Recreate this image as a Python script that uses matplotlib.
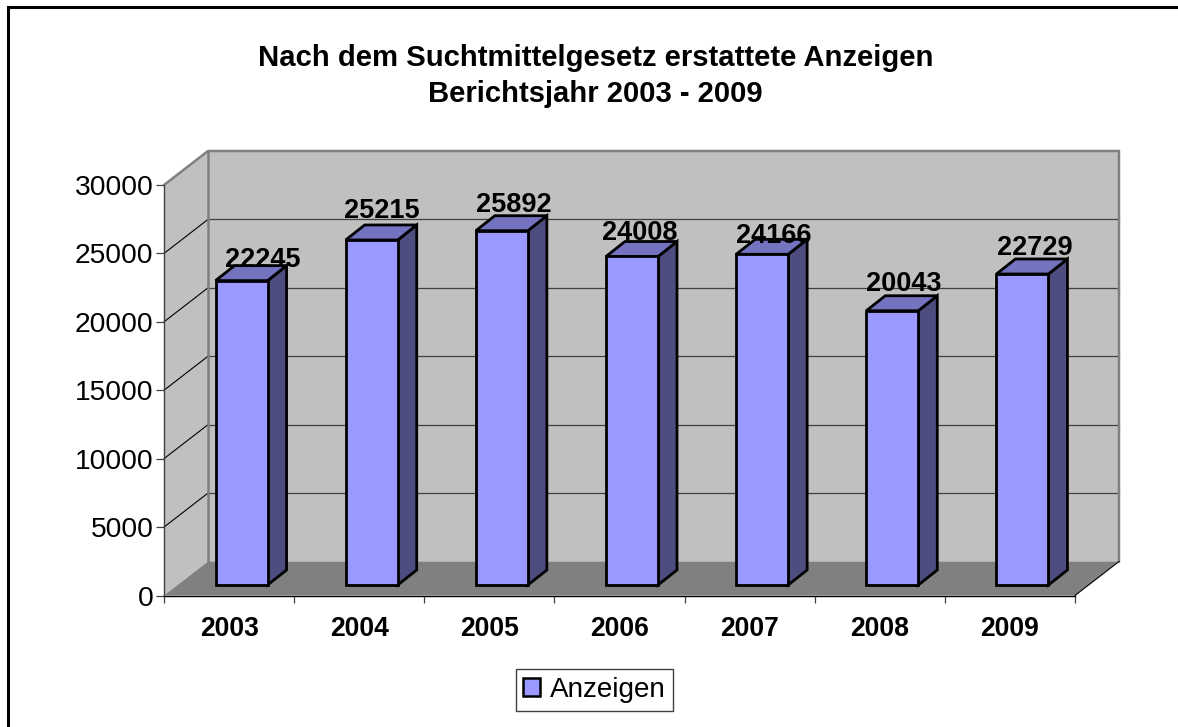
import matplotlib
matplotlib.use("Agg")
import matplotlib.pyplot as plt
from matplotlib.lines import Line2D
from matplotlib.patches import Polygon, Patch

years = ["2003", "2004", "2005", "2006", "2007", "2008", "2009"]
anzeigen = [22245, 25215, 25892, 24008, 24166, 20043, 22729]
yticks = [0, 5000, 10000, 15000, 20000, 25000, 30000]
title = "Nach dem Suchtmittelgesetz erstattete Anzeigen\nBerichtsjahr 2003 - 2009"
series_name = "Anzeigen"

# hand-placed label offsets in the original (pixels from bar top centre)
label_dx = [21, 10, 12, 8, 12, 11, 12]
label_dy = [21, 29, 26, 23, 18, 27, 26]

plt.rcParams['font.family'] = ['Liberation Sans', 'DejaVu Sans']
W, H = 1178, 727
fig = plt.figure(figsize=(W / 100, H / 100), dpi=100)
L, R, B, T = 164, 1075, 595.5, 185
ax = fig.add_axes([L / W, 1 - B / H, (R - L) / W, (B - T) / H])
ax.set_xlim(-0.5, 6.5)
ax.set_ylim(0, 30000)
ax.patch.set_visible(False)

xpx = (R - L) / 7
ypx = (B - T) / 30000
DX, DY = 44 / xpx, 34 / ypx           # wall depth
SX, SY = 12.5 / xpx, 10.5 / ypx       # bar shift into depth
BX, BY = 19 / xpx, 15 / ypx           # bar depth
BW = 52 / xpx
x0, x1 = -0.5, 6.5
ymax = 30000

def poly(pts, **kw):
    kw.setdefault('clip_on', False)
    ax.add_patch(Polygon(pts, closed=True, **kw))

def line(xs, ys, **kw):
    ax.add_line(Line2D(xs, ys, clip_on=False, **kw))

# walls and floor
poly([(x0, 0), (x0 + DX, DY), (x1 + DX, DY), (x1 + DX, ymax + DY), (x0 + DX, ymax + DY), (x0, ymax)],
     facecolor='#c0c0c0', edgecolor='none', zorder=1)
poly([(x0, 0), (x1, 0), (x1 + DX, DY), (x0 + DX, DY)], facecolor='#808080', edgecolor='none', zorder=1.2)

# gridlines
for v in yticks[1:-1]:
    line([x0 + DX, x1 + DX], [v + DY, v + DY], color='#404040', lw=0.9, zorder=1.5)
    line([x0, x0 + DX], [v, v + DY], color='black', lw=0.8, zorder=1.5)
# wall outline
line([x0, x0 + DX, x1 + DX, x1 + DX], [ymax, ymax + DY, ymax + DY, DY], color='#808080', lw=1.8, zorder=1.6)
line([x0 + DX, x0 + DX], [DY, ymax + DY], color='#808080', lw=1.8, zorder=1.6)
line([x1, x1 + DX], [0, DY], color='black', lw=0.8, zorder=1.6)

# bars
for i, v in enumerate(anzeigen):
    l = i - BW / 2 + SX
    r = i + BW / 2 + SX
    b = SY
    t = v + SY
    kw = dict(edgecolor='black', linewidth=2.0, joinstyle='miter', zorder=3)
    poly([(r, b), (r + BX, b + BY), (r + BX, t + BY), (r, t)], facecolor='#4d4d80', **kw)
    poly([(l, t), (r, t), (r + BX, t + BY), (l + BX, t + BY)], facecolor='#7373bf', **kw)
    poly([(l, b), (r, b), (r, t), (l, t)], facecolor='#9999ff', **kw)
    ax.annotate(str(v), xy=(i + SX, t), xytext=(label_dx[i] * 0.72, label_dy[i] * 0.72),
                textcoords='offset points', ha='center', va='center',
                fontsize=19.5, fontweight='bold', color='black', zorder=5, annotation_clip=False)

# axes
for s in ('top', 'right'):
    ax.spines[s].set_visible(False)
for s in ('left', 'bottom'):
    ax.spines[s].set_color('#404040')
    ax.spines[s].set_linewidth(1.0)
    ax.spines[s].set_zorder(2)
ax.spines['bottom'].set_color('black')
ax.set_yticks(yticks)
ax.set_yticklabels([str(v) for v in yticks])
ax.tick_params(axis='y', length=5.5, width=0.9, color='#404040', pad=2, labelsize=20.3)
ax.set_xticks([i - 0.5 for i in range(8)])
ax.set_xticklabels([])
ax.set_xticks(range(7), minor=True)
ax.set_xticklabels(years, minor=True, fontsize=19.1, fontweight='bold')
ax.tick_params(axis='x', which='major', length=5, width=0.9, color='#404040')
ax.tick_params(axis='x', which='minor', length=0, pad=15)

# title
fig.text(595.5 / W, 1 - 76 / H, title, ha='center', va='center', fontsize=21.1,
         fontweight='bold', linespacing=1.36)

# legend
handle = Patch(facecolor='#9999ff', edgecolor='black', linewidth=1.8)
leg = fig.legend(handles=[handle], labels=[series_name], loc='center',
                 bbox_to_anchor=(594.5 / W, 1 - 690 / H), fontsize=20.1, frameon=True,
                 fancybox=False, edgecolor='#404040', framealpha=1,
                 handlelength=0.6, handleheight=0.6, handletextpad=0.36,
                 borderpad=0.27, borderaxespad=0)
leg.get_frame().set_linewidth(1.0)

# outer frame, open at the right and bottom
fig.add_artist(Line2D([8 / W, 8 / W, 1], [0, 1 - 7 / H, 1 - 7 / H], color='black', lw=2.2,
                      solid_joinstyle='miter', transform=fig.transFigure))

fig.savefig("out.png", dpi=100, facecolor='white')
